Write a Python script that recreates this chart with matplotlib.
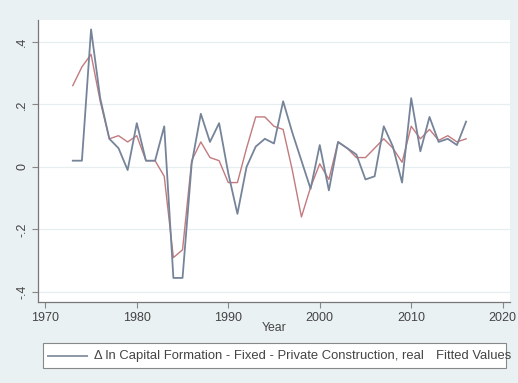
import matplotlib
matplotlib.use("Agg")
import matplotlib.pyplot as plt
from matplotlib.lines import Line2D
from matplotlib.patches import Rectangle

plt.rcParams["font.family"] = ["Liberation Sans", "DejaVu Sans"]

years = list(range(1973, 2017))

actual = [0.02, 0.02, 0.44, 0.22, 0.09, 0.06, -0.01, 0.14, 0.02, 0.02,
          0.13, -0.355, -0.355, 0.01, 0.17, 0.08, 0.14, -0.02, -0.15, 0.00,
          0.065, 0.09, 0.075, 0.21, 0.11, 0.02, -0.07, 0.07, -0.075, 0.08,
          0.06, 0.04, -0.04, -0.03, 0.13, 0.065, -0.05, 0.22, 0.05, 0.16,
          0.08, 0.09, 0.07, 0.145]

fitted = [0.26, 0.32, 0.36, 0.21, 0.09, 0.10, 0.08, 0.10, 0.02, 0.02,
          -0.03, -0.29, -0.265, 0.02, 0.08, 0.03, 0.02, -0.05, -0.05, 0.06,
          0.16, 0.16, 0.13, 0.12, -0.01, -0.16, -0.065, 0.01, -0.04, 0.08,
          0.06, 0.03, 0.03, 0.06, 0.09, 0.06, 0.015, 0.13, 0.09, 0.12,
          0.085, 0.10, 0.08, 0.09]

y_ticks = [-0.4, -0.2, 0.0, 0.2, 0.4]
y_tick_labels = ["-.4", "-.2", "0", ".2", ".4"]
x_ticks = [1970, 1980, 1990, 2000, 2010, 2020]

series_label = "\u0394 ln Capital Formation - Fixed - Private Construction, real"
fitted_label = "Fitted Values"

bg = "#EAF1F3"
c_actual = "#76849A"
c_fitted = "#C27A7E"
txt = "#444444"

fig = plt.figure(figsize=(5.18, 3.83), dpi=100, facecolor=bg)
ax = fig.add_axes([38 / 518, 1 - 302 / 383, (510 - 38) / 518, (302 - 20) / 383])
ax.set_facecolor("white")

ax.plot(years, actual, color=c_actual, lw=1.3, zorder=3)
ax.plot(years, fitted, color=c_fitted, lw=1.0, zorder=2)

ax.set_xlim(1969.2, 2020.8)
ax.set_ylim(-0.432, 0.47)
ax.set_yticks(y_ticks)
ax.set_yticklabels(y_tick_labels, rotation=90, va="center", fontsize=9, color=txt)
ax.set_xticks(x_ticks)
ax.set_xticklabels([str(v) for v in x_ticks], fontsize=9, color=txt)
ax.tick_params(axis="both", direction="out", length=4, width=0.8, color="#888888", pad=3)
ax.yaxis.grid(True, color="#E6EEF0", lw=0.9, zorder=0)
ax.xaxis.grid(False)
for side in ("top", "right"):
    ax.spines[side].set_visible(False)
for side in ("left", "bottom"):
    ax.spines[side].set_color("#777777")
    ax.spines[side].set_linewidth(0.9)

ax.set_xlabel("Year", fontsize=8.8, color=txt, labelpad=-1)

# legend box drawn in figure coordinates
W, H = 518, 383
fig.patches.append(Rectangle((43 / W, 1 - 368 / H), (506 - 43) / W, 25 / H,
                             transform=fig.transFigure, facecolor="white",
                             edgecolor="#888888", lw=0.8))
fig.lines.append(Line2D([48 / W, 87 / W], [1 - 356 / H, 1 - 356 / H],
                        transform=fig.transFigure, color="#8D97A5", lw=1.4))
fig.text(94 / W, 1 - 356 / H, series_label, fontsize=9.4, color=txt,
         va="center", ha="left")
fig.text(511 / W, 1 - 356 / H, fitted_label, fontsize=9.4, color=txt,
         va="center", ha="right")

fig.savefig("out.png", dpi=100, facecolor=bg)
